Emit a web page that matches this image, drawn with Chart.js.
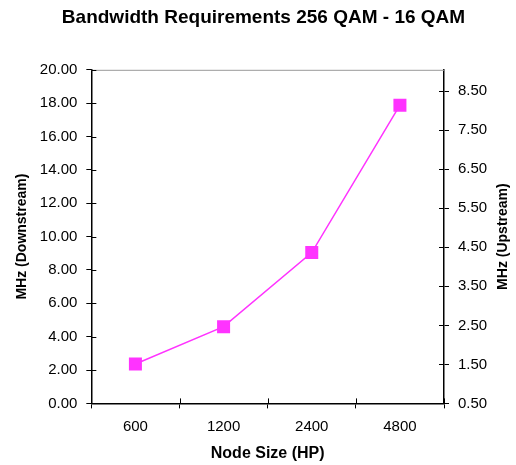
<!DOCTYPE html>
<html>
<head>
<meta charset="utf-8">
<script src="https://cdn.jsdelivr.net/npm/chart.js@4"></script>
<style>
  html, body { margin: 0; padding: 0; background: #fff; }
  #wrap { width: 516px; height: 465px; }
</style>
</head>
<body>
<div id="wrap"><canvas id="c" width="516" height="465"></canvas></div>
<script>
// Node sizes (homes passed) and required downstream bandwidth in MHz
const nodeSizes = ['600', '1200', '2400', '4800'];
const downstreamMHz = [2.36, 4.60, 9.04, 17.88];
// Upstream axis tick values
const upstreamTicks = [0.5, 1.5, 2.5, 3.5, 4.5, 5.5, 6.5, 7.5, 8.5];

const FONT = "'Liberation Sans', Arial, Helvetica, sans-serif";
const MAGENTA = '#ff33ff';
const RIGHT_TITLE = 'MHz (Upstream)';
const RIGHT_TITLE_FONT = 'bold 14px ' + FONT;

// Draws the inner half of every axis tick, the grey top frame line
// and the right-hand axis title reading bottom to top
const frameTicks = {
  id: 'frameTicks',
  afterDraw(chart) {
    const { ctx, chartArea: a, scales } = chart;
    const L = 5;
    ctx.save();
    ctx.strokeStyle = '#999';
    ctx.lineWidth = 1;
    ctx.beginPath();
    ctx.moveTo(a.left, a.top + 0.5);
    ctx.lineTo(a.right, a.top + 0.5);
    ctx.stroke();
    ctx.strokeStyle = '#000';
    ctx.beginPath();
    scales.y.ticks.forEach(t => {
      const py = Math.round(scales.y.getPixelForValue(t.value)) + 0.5;
      ctx.moveTo(a.left, py); ctx.lineTo(a.left + L, py);
    });
    scales.y1.ticks.forEach(t => {
      const py = Math.round(scales.y1.getPixelForValue(t.value)) + 0.5;
      ctx.moveTo(a.right, py); ctx.lineTo(a.right - L, py);
    });
    const n = nodeSizes.length;
    for (let i = 0; i <= n; i++) {
      const px = Math.round(scales.x.left + (scales.x.width * i) / n) + 0.5;
      ctx.moveTo(px, a.bottom); ctx.lineTo(px, a.bottom - L);
    }
    ctx.stroke();

    // right axis title
    const s = scales.y1;
    const cx = s.right - 10;
    const cy = (a.top + a.bottom) / 2;
    ctx.translate(cx, cy);
    ctx.rotate(-Math.PI / 2);
    ctx.font = RIGHT_TITLE_FONT;
    ctx.fillStyle = '#000';
    ctx.textAlign = 'center';
    ctx.textBaseline = 'middle';
    ctx.fillText(RIGHT_TITLE, 0, 0);
    ctx.restore();
  }
};

new Chart(document.getElementById('c'), {
  type: 'line',
  data: {
    labels: nodeSizes,
    datasets: [{
      label: 'Downstream',
      data: downstreamMHz,
      yAxisID: 'y',
      borderColor: MAGENTA,
      backgroundColor: MAGENTA,
      borderWidth: 1.5,
      pointStyle: 'rect',
      pointRadius: 9.2,
      pointHoverRadius: 9.2,
      pointBorderWidth: 0,
      tension: 0,
      fill: false
    }]
  },
  options: {
    responsive: false,
    animation: false,
    devicePixelRatio: 1,
    layout: { padding: { left: 14, right: 3, top: 0, bottom: 1.4 } },
    plugins: {
      legend: { display: false },
      tooltip: { enabled: false },
      title: {
        display: true,
        text: 'Bandwidth Requirements 256 QAM - 16 QAM',
        color: '#000',
        font: { family: FONT, size: 19, weight: 'bold' },
        padding: { top: 6, bottom: 41 }
      }
    },
    scales: {
      x: {
        type: 'category',
        offset: true,
        grid: { drawOnChartArea: false, drawTicks: true, tickLength: 5, color: '#000', offset: true },
        border: { color: '#000', width: 1.5 },
        ticks: { color: '#000', font: { family: FONT, size: 15 }, padding: 9.5 },
        title: {
          display: true, text: 'Node Size (HP)', color: '#000',
          font: { family: FONT, size: 16, weight: 'bold' }, padding: { top: -1, bottom: 0 }
        }
      },
      y: {
        position: 'left',
        min: 0, max: 20,
        grid: { drawOnChartArea: false, drawTicks: true, tickLength: 5, color: '#000' },
        border: { color: '#000', width: 1.5 },
        ticks: {
          stepSize: 2, color: '#000', padding: 9,
          font: { family: FONT, size: 15 },
          callback: v => Number(v).toFixed(2)
        },
        title: {
          display: true, text: 'MHz (Downstream)', color: '#000',
          font: { family: FONT, size: 14, weight: 'bold' }, padding: { top: 0, bottom: 0 }
        }
      },
      y1: {
        position: 'right',
        min: 0.5, max: 9.05,
        afterBuildTicks: s => { s.ticks = upstreamTicks.map(v => ({ value: v })); },
        grid: { drawOnChartArea: false, drawTicks: true, tickLength: 5, color: '#000' },
        border: { color: '#000', width: 1.5 },
        ticks: {
          color: '#000', padding: 9,
          font: { family: FONT, size: 15 },
          callback: v => Number(v).toFixed(2)
        },
        // space for the title; the visible title is drawn by frameTicks
        title: {
          display: true, text: RIGHT_TITLE, color: 'rgba(0,0,0,0)',
          font: { family: FONT, size: 14, weight: 'bold' }, padding: { top: 0, bottom: 0 }
        }
      }
    }
  },
  plugins: [frameTicks]
});
</script>
</body>
</html>
